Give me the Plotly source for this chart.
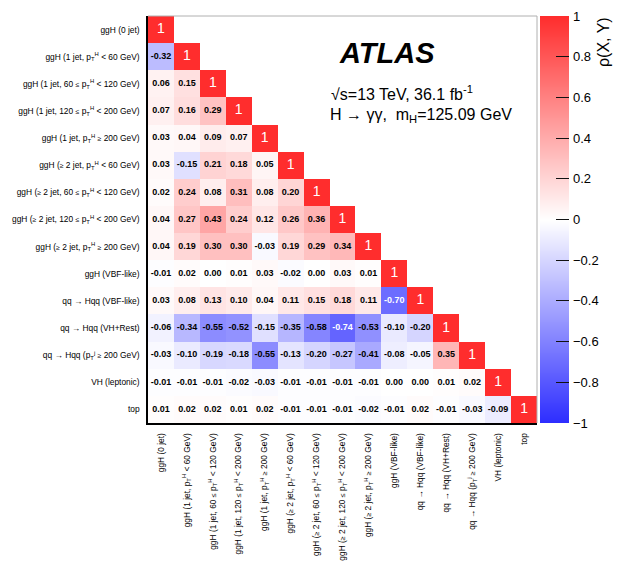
import plotly.graph_objects as go

GE = "<span style='font-size:7px'>≥</span>"
LE = "<span style='font-size:7px'>≤</span>"
PT = "p<sub>T</sub><sup>H</sup>"

labels = [
    "ggH (0 jet)",
    "ggH (1 jet, " + PT + " &lt; 60 GeV)",
    "ggH (1 jet, 60 " + LE + " " + PT + " &lt; 120 GeV)",
    "ggH (1 jet, 120 " + LE + " " + PT + " &lt; 200 GeV)",
    "ggH (1 jet, " + PT + " " + GE + " 200 GeV)",
    "ggH (" + GE + " 2 jet, " + PT + " &lt; 60 GeV)",
    "ggH (" + GE + " 2 jet, 60 " + LE + " " + PT + " &lt; 120 GeV)",
    "ggH (" + GE + " 2 jet, 120 " + LE + " " + PT + " &lt; 200 GeV)",
    "ggH (" + GE + " 2 jet, " + PT + " " + GE + " 200 GeV)",
    "ggH (VBF-like)",
    "qq → Hqq (VBF-like)",
    "qq → Hqq (VH+Rest)",
    "qq → Hqq (p<sub>T</sub><sup>j</sup> " + GE + " 200 GeV)",
    "VH (leptonic)",
    "top",
]

row0 = [1]
row1 = [-0.32, 1]
row2 = [0.06, 0.15, 1]
row3 = [0.07, 0.16, 0.29, 1]
row4 = [0.03, 0.04, 0.09, 0.07, 1]
row5 = [0.03, -0.15, 0.21, 0.18, 0.05, 1]
row6 = [0.02, 0.24, 0.08, 0.31, 0.08, 0.20, 1]
row7 = [0.04, 0.27, 0.43, 0.24, 0.12, 0.26, 0.36, 1]
row8 = [0.04, 0.19, 0.30, 0.30, -0.03, 0.19, 0.29, 0.34, 1]
row9 = [-0.01, 0.02, 0.00, 0.01, 0.03, -0.02, 0.00, 0.03, 0.01, 1]
row10 = [0.03, 0.08, 0.13, 0.10, 0.04, 0.11, 0.15, 0.18, 0.11, -0.70, 1]
row11 = [-0.06, -0.34, -0.55, -0.52, -0.15, -0.35, -0.58, -0.74, -0.53, -0.10, -0.20, 1]
row12 = [-0.03, -0.10, -0.19, -0.18, -0.55, -0.13, -0.20, -0.27, -0.41, -0.08, -0.05, 0.35, 1]
row13 = [-0.01, -0.01, -0.01, -0.02, -0.03, -0.01, -0.01, -0.01, -0.01, 0.00, 0.00, 0.01, 0.02, 1]
row14 = [0.01, 0.02, 0.02, 0.01, 0.02, -0.01, -0.01, -0.01, -0.02, -0.01, 0.02, -0.01, -0.03, -0.09, 1]

rows = [row0, row1, row2, row3, row4, row5, row6, row7, row8, row9,
        row10, row11, row12, row13, row14]

cbar_ticks = [-1, -0.8, -0.6, -0.4, -0.2, 0, 0.2, 0.4, 0.6, 0.8, 1]
ZMIN, ZMAX = -1, 1

n = len(labels)
z = [[(rows[i][j] if j <= i else None) for j in range(n)] for i in range(n)]

FONT = "Liberation Sans, Arial, Helvetica, sans-serif"

tx, ty, tt, tc, ts = [], [], [], [], []
for i in range(n):
    for j in range(i + 1):
        v = rows[i][j]
        tx.append(j)
        ty.append(i)
        if i == j:
            tt.append("1")
            tc.append("white")
            ts.append(14)
        else:
            tt.append("<b>%.2f</b>" % v)
            tc.append("white" if abs(v) >= 0.65 else "black")
            ts.append(9)

colorscale = [[0.0, "rgb(45,45,255)"], [0.5, "rgb(255,255,255)"], [1.0, "rgb(255,45,45)"]]

# page has an 8px body margin; figure 615x563 drawn at (8, 8)
FIG_W, FIG_H = 615, 563
M_L, M_R, M_T, M_B = 140, 0, 8, 148
AREA_W = FIG_W - M_L - M_R


def px(page_x):
    return (page_x - 8 - M_L) / AREA_W


MAIN_DOM = [0, px(537)]
CB_DOM = [px(540), px(569)]

fig = go.Figure()
fig.add_trace(go.Heatmap(
    x=list(range(n)), y=list(range(n)), z=z,
    zmin=ZMIN, zmax=ZMAX, colorscale=colorscale,
    hoverongaps=False, showscale=False,
))
fig.add_trace(go.Scatter(
    x=tx, y=ty, text=tt, mode="text",
    textfont=dict(family=FONT, color=tc, size=ts),
    hoverinfo="skip", showlegend=False,
))
# colour bar: palette column built from the tick values, smoothly interpolated
fig.add_trace(go.Heatmap(
    x=[0, 1], y=cbar_ticks, z=[[t, t] for t in cbar_ticks],
    zmin=ZMIN, zmax=ZMAX, colorscale=colorscale, zsmooth="best",
    showscale=False, hoverinfo="skip", xaxis="x2", yaxis="y2",
))

fig.update_layout(
    width=FIG_W, height=FIG_H,
    margin=dict(l=M_L, r=M_R, t=M_T, b=M_B, autoexpand=False),
    paper_bgcolor="white", plot_bgcolor="white",
    font=dict(family=FONT, color="black"),
    showlegend=False,
    xaxis=dict(
        domain=MAIN_DOM,
        range=[-0.5, n - 0.5], tickvals=list(range(n)), ticktext=labels,
        tickangle=-90, showgrid=False, zeroline=False, automargin=False,
        showline=True, linecolor="black", linewidth=1.5,
        ticks="", ticklabelstandoff=5,
        tickfont=dict(family=FONT, size=8.4, color="black"),
    ),
    yaxis=dict(
        range=[n - 0.5, -0.5], tickvals=list(range(n)), ticktext=labels,
        showgrid=False, zeroline=False, automargin=False,
        showline=True, linecolor="black", linewidth=1.5,
        ticks="", ticklabelstandoff=5,
        tickfont=dict(family=FONT, size=8.4, color="black"),
    ),
    xaxis2=dict(
        domain=CB_DOM, anchor="y2", range=[-0.5, 1.5],
        visible=False, fixedrange=True,
    ),
    yaxis2=dict(
        anchor="x2", side="right", range=[ZMIN, ZMAX],
        tickvals=cbar_ticks,
        ticktext=[("−" + ("%g" % abs(t))) if t < 0 else ("%g" % t) for t in cbar_ticks],
        ticks="inside", ticklen=13, tickwidth=1.3, tickcolor="#111111",
        showgrid=False, zeroline=False, showline=False, automargin=False,
        ticklabelstandoff=3, fixedrange=True,
        tickfont=dict(family=FONT, size=13, color="black"),
    ),
    shapes=[
        dict(type="line", xref="x domain", yref="y domain", x0=0, x1=1, y0=1, y1=1,
             line=dict(color="#b0b0b0", width=1)),
        dict(type="line", xref="x domain", yref="y domain", x0=1, x1=1, y0=0, y1=1,
             line=dict(color="#b0b0b0", width=1)),
    ],
    annotations=[
        dict(text="<b><i>ATLAS</i></b>", xref="paper", yref="paper",
             x=px(336.5), y=0.91, xanchor="left", yanchor="middle", showarrow=False,
             font=dict(family=FONT, size=29, color="black")),
        dict(text="√s=13 TeV, 36.1 fb<sup>-1</sup>", xref="paper", yref="paper",
             x=px(329), y=0.812, xanchor="left", yanchor="middle", showarrow=False,
             font=dict(family=FONT, size=16, color="black")),
        dict(text="H → γγ,  m<sub>H</sub>=125.09 GeV", xref="paper", yref="paper",
             x=px(328), y=0.755, xanchor="left", yanchor="middle", showarrow=False,
             font=dict(family=FONT, size=16, color="black")),
        dict(text="ρ(X, Y)", xref="paper", yref="paper", textangle=-90,
             x=px(603), y=0.936, xanchor="center", yanchor="middle", showarrow=False,
             font=dict(family=FONT, size=16, color="black")),
    ],
)

fig.write_html("out.html")
